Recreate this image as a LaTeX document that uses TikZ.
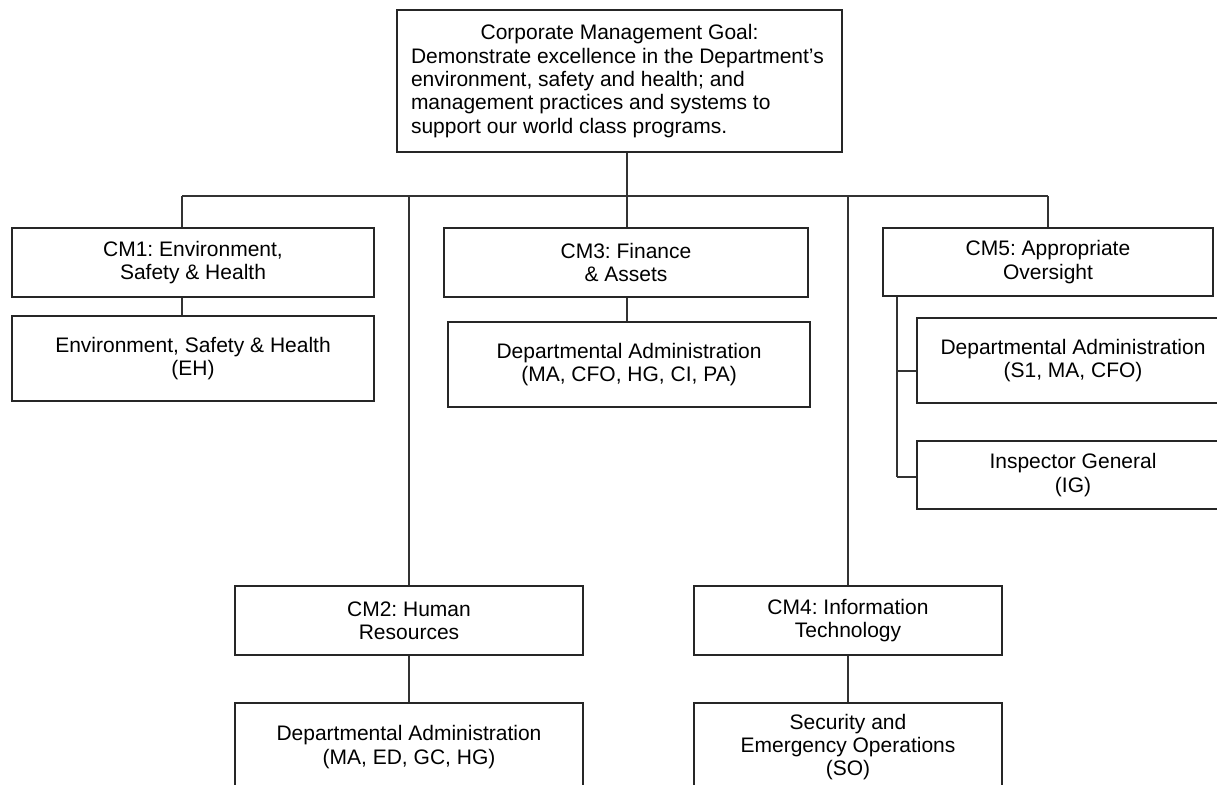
\documentclass[tikz,border=0pt]{standalone}
\usepackage{fontspec}
\setmainfont{Liberation Sans}
\frenchspacing
\begin{document}
\begin{tikzpicture}[x=1pt,y=-1pt,
  box/.style={draw=black!85, line width=1.1pt, rectangle, inner sep=0pt,
    align=center, font=\fontsize{21}{23.4}\selectfont, text=black},
  link/.style={draw=black!80, line width=1.1pt}]
\useasboundingbox (0,0) rectangle (1217,784);
\clip (0,0) rectangle (1217,784);

% top goal
\node[box, minimum width=445, minimum height=142, align=left] (goal) at (619.5,81)
  {\makebox[417pt]{Corporate Management Goal:}\\
   Demonstrate excellence in the Department’s\\
   environment, safety and health; and\\
   management practices and systems to\\
   support our world class programs.};

% first level
\node[box, minimum width=362, minimum height=69] (cm1) at (193,262.5)
  {CM1: Environment,\\Safety \& Health};
\node[box, minimum width=364, minimum height=69] (cm3) at (626,262.5)
  {CM3: Finance\\\& Assets};
\node[box, minimum width=330, minimum height=68] (cm5) at (1048,262)
  {CM5: Appropriate\\Oversight};
\node[box, minimum width=348, minimum height=69] (cm2) at (409,620.5)
  {CM2: Human\\Resources};
\node[box, minimum width=308, minimum height=69] (cm4) at (848,620.5)
  {CM4: Information\\Technology};

% offices
\node[box, minimum width=362, minimum height=85] (eh) at (193,358.5)
  {Environment, Safety \& Health\\(EH)};
\node[box, minimum width=362, minimum height=85] (da3) at (629,364.5)
  {Departmental Administration\\(MA, CFO, HG, CI, PA)};
\node[box, minimum width=312, minimum height=85] (da5) at (1073,360.5)
  {Departmental Administration\\(S1, MA, CFO)};
\node[box, minimum width=312, minimum height=68] (ig) at (1073,475)
  {Inspector General\\(IG)};
\node[box, minimum width=348, minimum height=88] (da2) at (409,747)
  {Departmental Administration\\(MA, ED, GC, HG)};
\node[box, minimum width=308, minimum height=88] (so) at (848,747)
  {Security and\\Emergency Operations\\(SO)};

% bus junctions
\coordinate (j1) at (182,196);
\coordinate (j2) at (409,196);
\coordinate (j3) at (627,196);
\coordinate (j4) at (848,196);
\coordinate (j5) at (1048,196);
\coordinate (k1) at (897,371);
\coordinate (k2) at (897,477);

% connectors
\draw[link] (goal.south -| j3) -- (j3);
\draw[link] (j1) -- (j5);
\draw[link] (j1) -- (j1 |- cm1.north);
\draw[link] (j2) -- (j2 |- cm2.north);
\draw[link] (j3) -- (j3 |- cm3.north);
\draw[link] (j4) -- (j4 |- cm4.north);
\draw[link] (j5) -- (j5 |- cm5.north);
\draw[link] (cm1.south -| j1) -- (eh.north -| j1);
\draw[link] (cm3.south -| j3) -- (da3.north -| j3);
\draw[link] (cm2.south) -- (da2.north);
\draw[link] (cm4.south) -- (so.north);
\draw[link] (k1 |- cm5.south) -- (k2);
\draw[link] (k1) -- (k1 -| da5.west);
\draw[link] (k2) -- (k2 -| ig.west);
\end{tikzpicture}
\end{document}
